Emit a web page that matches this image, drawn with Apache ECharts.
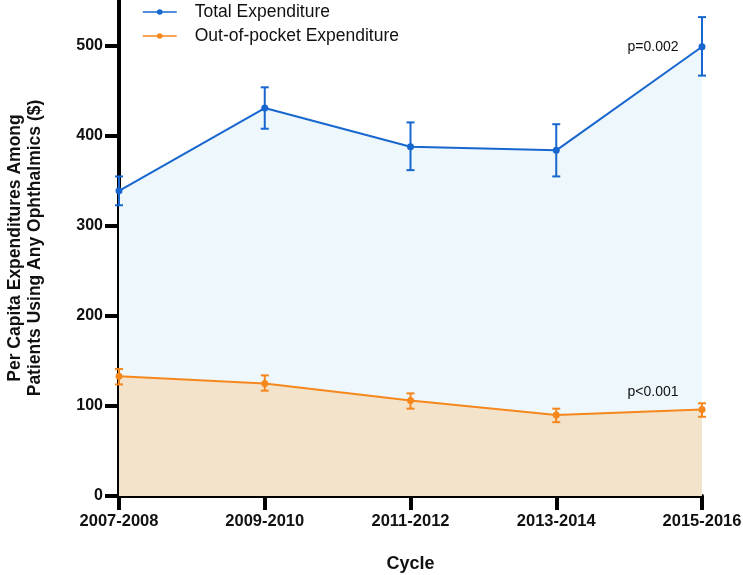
<!DOCTYPE html>
<html>
<head>
<meta charset="utf-8">
<script src="https://cdn.jsdelivr.net/npm/echarts@6/dist/echarts.min.js"></script>
<style>
html,body{margin:0;padding:0;background:#fff;}
#chart{width:743px;height:575px;}
</style>
</head>
<body>
<div id="chart"></div>
<script>
const categories = ['2007-2008', '2009-2010', '2011-2012', '2013-2014', '2015-2016'];
const totalValues = [339, 431, 388, 384, 499];
const totalLow = [323, 408, 362, 355, 467];
const totalHigh = [355, 454, 415, 413, 532];
const oopValues = [133, 125, 106, 90, 96];
const oopLow = [124, 117, 97, 82, 88];
const oopHigh = [141, 134, 114, 97, 103];
const yTicks = [0, 100, 200, 300, 400, 500];
const seriesNames = ['Total Expenditure', 'Out-of-pocket Expenditure'];
const pLabels = ['p=0.002', 'p<0.001'];

const FONT = 'Arial, "Liberation Sans", Helvetica, sans-serif';
const BLUE = '#1767CF';
const ORANGE = '#F5871C';

function withLastLabel(values, text, offset) {
  return values.map((v, i) => i === values.length - 1 ? {
    value: v,
    label: { show: true, formatter: text, position: 'left', distance: 20, offset: offset,
      color: '#111', fontSize: 14, fontFamily: FONT }
  } : v);
}

function errorSeries(low, high, color) {
  return {
    type: 'custom',
    silent: true,
    z: 5,
    data: low.map((l, i) => [i, l, high[i]]),
    renderItem: function (params, api) {
      const idx = api.value(0);
      const lo = api.coord([idx, api.value(1)]);
      const hi = api.coord([idx, api.value(2)]);
      const w = 4;
      const st = { stroke: color, lineWidth: 2 };
      return {
        type: 'group',
        children: [
          { type: 'line', shape: { x1: lo[0], y1: lo[1], x2: hi[0], y2: hi[1] }, style: st },
          { type: 'line', shape: { x1: lo[0] - w, y1: lo[1], x2: lo[0] + w, y2: lo[1] }, style: st },
          { type: 'line', shape: { x1: hi[0] - w, y1: hi[1], x2: hi[0] + w, y2: hi[1] }, style: st }
        ]
      };
    }
  };
}

const chart = echarts.init(document.getElementById('chart'), null, { renderer: 'canvas' });
chart.setOption({
  animation: false,
  backgroundColor: '#fff',
  textStyle: { fontFamily: FONT },
  grid: { left: 119, right: 41, top: 0, bottom: 79, containLabel: false, outerBoundsMode: 'none' },
  legend: {
    data: seriesNames,
    orient: 'vertical',
    left: 142,
    top: 3,
    padding: 0,
    itemWidth: 34,
    itemHeight: 7,
    itemGap: 6,
    lineStyle: { width: 1.5 },
    textStyle: { fontSize: 17.5, color: '#111', fontFamily: FONT, padding: [0, 0, 0, 13] }
  },
  xAxis: {
    type: 'category',
    data: categories,
    boundaryGap: false,
    name: 'Cycle',
    nameLocation: 'middle',
    nameGap: 59,
    nameTextStyle: { fontSize: 18, fontWeight: 'bold', color: '#111', fontFamily: FONT },
    axisLine: { lineStyle: { color: '#000', width: 4 } },
    axisTick: { show: true, length: 14, alignWithLabel: true, lineStyle: { color: '#000', width: 4 } },
    axisLabel: { fontSize: 16.5, fontWeight: 'bold', color: '#111', margin: 17, fontFamily: FONT },
    splitLine: { show: false }
  },
  yAxis: {
    type: 'value',
    min: 0,
    max: 551,
    name: 'Per Capita Expenditures Among\nPatients Using Any Ophthalmics ($)',
    nameLocation: 'middle',
    nameGap: 74,
    nameTextStyle: { fontSize: 17.5, fontWeight: 'bold', color: '#111', fontFamily: FONT, lineHeight: 20 },
    axisLine: { show: true, lineStyle: { color: '#000', width: 4 } },
    axisTick: { show: true, length: 14, customValues: yTicks, lineStyle: { color: '#000', width: 4 } },
    axisLabel: { fontSize: 16, fontWeight: 'bold', color: '#111', margin: 16, customValues: yTicks, fontFamily: FONT },
    splitLine: { show: false }
  },
  series: [
    {
      name: seriesNames[0],
      type: 'line',
      data: withLastLabel(totalValues, pLabels[0], [0, 0]),
      symbol: 'circle',
      symbolSize: 7,
      color: BLUE,
      lineStyle: { color: BLUE, width: 2 },
      itemStyle: { color: BLUE },
      areaStyle: { color: '#EEF7FC', opacity: 1 },
      z: 3
    },
    {
      name: seriesNames[1],
      type: 'line',
      data: withLastLabel(oopValues, pLabels[1], [0, -17]),
      symbol: 'circle',
      symbolSize: 7,
      color: ORANGE,
      lineStyle: { color: ORANGE, width: 2 },
      itemStyle: { color: ORANGE },
      areaStyle: { color: '#F3E3CA', opacity: 1 },
      z: 3
    },
    errorSeries(totalLow, totalHigh, BLUE),
    errorSeries(oopLow, oopHigh, ORANGE)
  ]
});
</script>
</body>
</html>
